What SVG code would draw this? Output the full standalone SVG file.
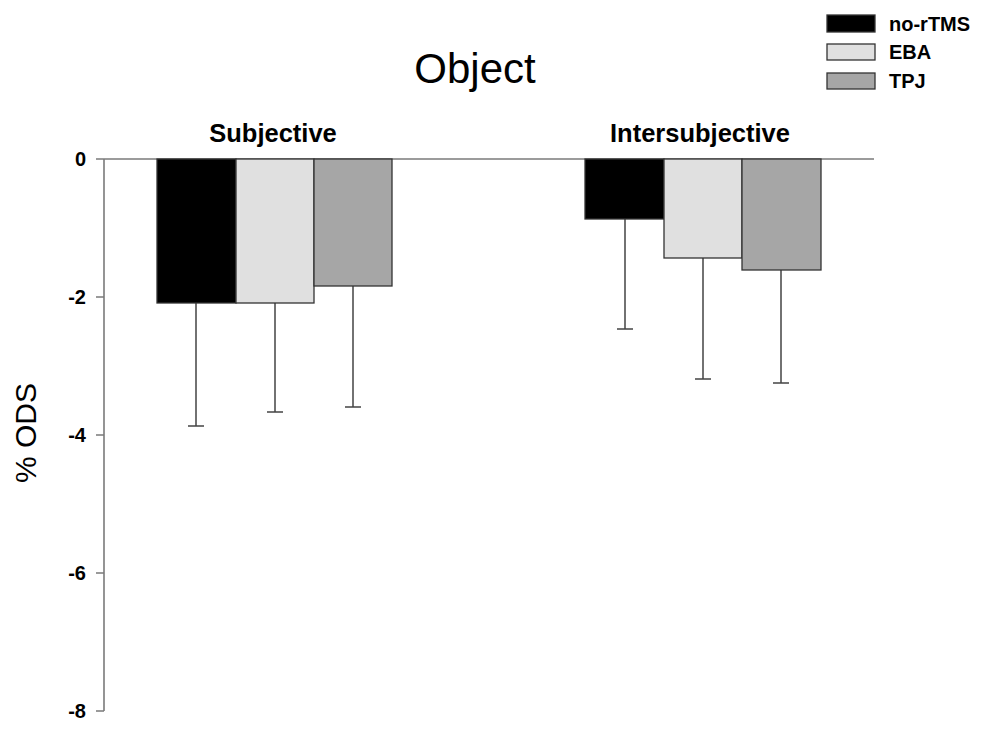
<svg xmlns="http://www.w3.org/2000/svg" width="981" height="729" viewBox="0 0 981 729">
<style>
text{font-family:"Liberation Sans",Arial,sans-serif;fill:#000}
.tick{font-size:20px;font-weight:bold;text-anchor:end}
.grp{font-size:25.5px;font-weight:bold;text-anchor:middle}
.leg{font-size:20px;font-weight:bold}
.axis{stroke:#7a7a7a;stroke-width:1.6;fill:none}
.bar{stroke:#333;stroke-width:1.3}
.err{stroke:#444;stroke-width:1.5;fill:none}
.k{fill:#000}.l{fill:#e0e0e0}.g{fill:#a6a6a6}
</style>
<rect width="981" height="729" fill="#fff"/>
<text x="475" y="83" font-size="42" text-anchor="middle">Object</text>
<g id="legend">
<rect class="bar k" x="827" y="15" width="48" height="17"/>
<text class="leg" x="889" y="31">no-rTMS</text>
<rect class="bar l" x="827" y="44" width="48" height="16"/>
<text class="leg" x="889" y="59">EBA</text>
<rect class="bar g" x="827" y="73" width="48" height="16"/>
<text class="leg" x="889" y="88">TPJ</text>
</g>
<g id="axes">
<line class="axis" x1="96" y1="159" x2="874" y2="159"/>
<line class="axis" x1="104" y1="159" x2="104" y2="711"/>
<path class="axis" d="M96 297H104M96 435H104M96 573H104M96 711H104"/>
<text class="tick" x="86" y="166">0</text>
<text class="tick" x="86" y="304">-2</text>
<text class="tick" x="86" y="442">-4</text>
<text class="tick" x="86" y="580">-6</text>
<text class="tick" x="86" y="718">-8</text>
<text x="36" y="433" font-size="30" text-anchor="middle" transform="rotate(-90 36 433)">% ODS</text>
</g>
<g id="subjective">
<text class="grp" x="273" y="142">Subjective</text>
<path class="err" d="M196 303V426M188 426H204M275 303V412M267 412H283M353 286V407M345 407H361"/>
<rect class="bar k" x="157" y="159" width="79" height="144"/>
<rect class="bar l" x="236" y="159" width="78" height="144"/>
<rect class="bar g" x="314" y="159" width="78" height="127"/>
</g>
<g id="intersubjective">
<text class="grp" x="700" y="142">Intersubjective</text>
<path class="err" d="M625 219V329M617 329H633M703 258V379M695 379H711M781 270V383M773 383H789"/>
<rect class="bar k" x="585" y="159" width="79" height="60"/>
<rect class="bar l" x="664" y="159" width="78" height="99"/>
<rect class="bar g" x="742" y="159" width="79" height="111"/>
</g>
</svg>
